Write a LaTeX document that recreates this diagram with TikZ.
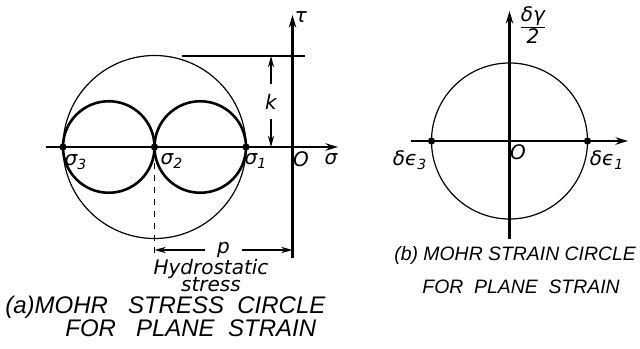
\documentclass[tikz,border=0pt]{standalone}
\usepackage{fontspec}
\setmainfont{DejaVu Sans}
\newfontfamily\capfont{Liberation Sans}
\usepackage{tikz}
\usetikzlibrary{arrows.meta,positioning}

\begin{document}
\begin{tikzpicture}[
  x=0.5pt,y=-0.5pt,
  axis/.style={line width=1.2pt,-{Stealth[length=2.2mm,width=1.3mm]}},
  arrow/.style={semithick,{Stealth[length=2mm,width=1.1mm]}-{Stealth[length=2mm,width=1.1mm]}},
  dot/.style={circle,fill=black,inner sep=0pt,minimum size=3.6pt},
  lbl/.style={font=\itshape\fontsize{10}{12}\selectfont,inner sep=1pt},
  captext/.style={font=\capfont\itshape\fontsize{12}{14}\selectfont,inner sep=0pt,anchor=west},
  capsmall/.style={font=\capfont\itshape\fontsize{9.7}{12}\selectfont,inner sep=0pt,anchor=west}
]
\useasboundingbox (0,0) rectangle (640,348);
% (a) stress circle
\coordinate (sc) at (154.5,147);
\draw[semithick] (sc) circle[radius=91.5];
\draw[line width=1.3pt] (108.75,147) circle[radius=45.75];
\draw[line width=1.3pt] (200.25,147) circle[radius=45.75];
\coordinate (sl) at (46,147);
\coordinate (sr) at (338,147);
\coordinate (tb) at (292.5,258);
\coordinate (tt) at (292.5,15);
\draw[axis] (sl) -- (sr);
\draw[axis] (tb) -- (tt);
\node[dot] (s3) at (63,147) {};
\node[dot] (s2) at (sc) {};
\node[dot] (s1) at (246,147) {};
\coordinate (kt) at (271,56);
\coordinate (kb) at (271,147);
\coordinate (lt) at (182,56);
\coordinate (rt) at (305,56);
\draw[semithick] (lt) -- (rt);
\draw[arrow] (kt) -- node[lbl,fill=white,inner ysep=5pt] (k) {k} (kb);
\coordinate (ds) at (154.5,256);
\draw[semithick,dashed] (s2) -- (ds);
\coordinate (pl) at (154.5,250);
\coordinate (pr) at (292.5,250);
\draw[arrow] (pl) -- node[lbl,fill=white,inner xsep=6pt] (p) {p} (pr);
\node[lbl] (tau) at (301,17) {τ};
\node[lbl] (sig) at (331,159) {σ};
\node[lbl] (o1) at (301,159) {O};
\node[lbl] (l3) at (76,162) {σ\textsubscript{3}};
\node[lbl] (l2) at (172,161) {σ\textsubscript{2}};
\node[lbl] (l1) at (256,161) {σ\textsubscript{1}};
\node[lbl,align=center,inner sep=0pt] (hyd) at (211,275.5) {Hydrostatic\\[-3.5pt]stress};
\node[captext] (capa) at (5,307) {(a)MOHR\ \ \ STRESS\ \ CIRCLE};
\node[captext] (capa2) at (65,328) {FOR\ \ \ PLANE\ \ STRAIN};
% (b) strain circle
\coordinate (ec) at (509.5,141);
\draw[semithick] (ec) circle[radius=78];
\coordinate (el) at (411,141);
\coordinate (er) at (628,141);
\coordinate (gb) at (509.5,239);
\coordinate (gt) at (509.5,11);
\draw[axis] (el) -- (er);
\draw[axis] (gb) -- (gt);
\node[dot] (e3) at (431.5,141) {};
\node[dot] (e1) at (587.5,141) {};
\node[lbl] (gam) at (533,25) {$\frac{\mbox{\itshape δγ}}{\mbox{\itshape 2}}$};
\node[lbl] (o2) at (518,152) {O};
\node[lbl] (le3) at (410,160) {δϵ\textsubscript{3}};
\node[lbl] (le1) at (607,160) {δϵ\textsubscript{1}};
\node[capsmall] (capb) at (394,255) {(b) MOHR STRAIN CIRCLE};
\node[capsmall] (capb2) at (422,287) {FOR\ \ PLANE\ \ STRAIN};
\end{tikzpicture}
\end{document}
